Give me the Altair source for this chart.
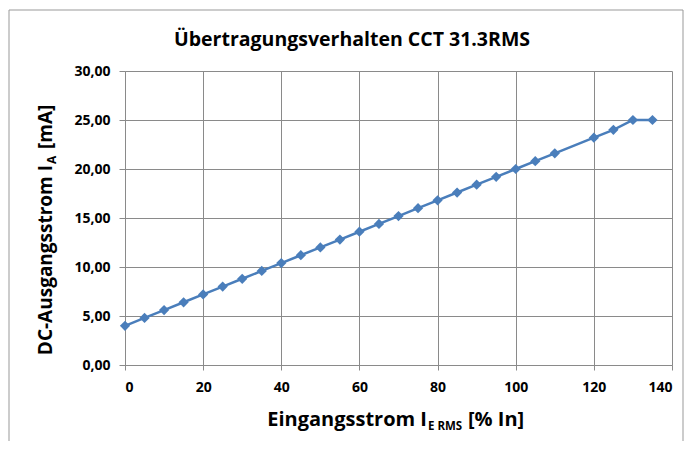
import altair as alt
import pandas as pd

x_vals = [0, 5, 10, 15, 20, 25, 30, 35, 40, 45, 50, 55, 60, 65, 70, 75, 80, 85, 90, 95, 100, 105, 110, 120, 125, 130, 135]
y_vals = [4.0, 4.8, 5.6, 6.4, 7.2, 8.0, 8.8, 9.6, 10.4, 11.2, 12.0, 12.8, 13.6, 14.4, 15.2, 16.0, 16.8, 17.6, 18.4, 19.2, 20.0, 20.8, 21.6, 23.2, 24.0, 25.0, 25.0]
x_ticks = [0, 20, 40, 60, 80, 100, 120, 140]
y_ticks = [0, 5, 10, 15, 20, 25, 30]

title_text = "Übertragungsverhalten CCT 31.3RMS"
FONT = "Open Sans"
GRID = "#8a8a8a"
BLUE = "#4a7ebb"

df = pd.DataFrame({"x": x_vals, "y": y_vals})

W, H = 547, 294

xenc = alt.X("x:Q", scale=alt.Scale(domain=[0, 140], nice=False),
             axis=alt.Axis(values=x_ticks, title=None, grid=True, gridColor=GRID,
                           domainColor=GRID, tickColor=GRID, tickSize=5,
                           labelFont=FONT, labelFontWeight="bold", labelFontSize=14,
                           labelColor="#000", labelPadding=10))
yenc = alt.Y("y:Q", scale=alt.Scale(domain=[0, 30], nice=False),
             axis=alt.Axis(values=y_ticks, title=None, grid=True, gridColor=GRID,
                           domainColor=GRID, tickColor=GRID, tickSize=6,
                           labelFont=FONT, labelFontWeight="bold", labelFontSize=14,
                           labelColor="#000", labelPadding=9,
                           labelExpr="replace(format(datum.value, '.2f'), '.', ',')"))

line = alt.Chart(df).mark_line(color=BLUE, strokeWidth=2.5).encode(x=xenc, y=yenc)
pts = alt.Chart(df).mark_point(shape="diamond", filled=True, color=BLUE, size=105, opacity=1).encode(x="x:Q", y="y:Q")

def txt(s, x, y, size, align="center", angle=0, baseline="alphabetic"):
    return alt.Chart(pd.DataFrame({"t": [s]})).mark_text(
        font=FONT, fontWeight="bold", fontSize=size, align=align, angle=angle,
        baseline=baseline, color="#000"
    ).encode(text="t:N", x=alt.value(x), y=alt.value(y))

title = txt(title_text, 227, -25, 19.5)

# x-axis title with subscript
xt1 = txt("Eingangsstrom I", 302, 355, 20, align="right")
xt2 = txt("E RMS", 303, 359, 11.5, align="left")
xt3 = txt("[% In]", 343, 355, 20, align="left")

# y-axis title with subscript (rotated)
yt1 = txt("DC-Ausgangsstrom I", -73, 94, 19, align="right", angle=270)
yt2 = txt("A", -69, 93, 12, align="left", angle=270)
yt3 = txt("[mA]", -73, 78, 19, align="left", angle=270)

frame_l = alt.Chart(pd.DataFrame({"a": [0]})).mark_rule(color="#999", strokeWidth=1).encode(
    x=alt.value(-116), y=alt.value(-61), y2=alt.value(420))
frame_t = alt.Chart(pd.DataFrame({"a": [0]})).mark_rule(color="#999", strokeWidth=1).encode(
    x=alt.value(-116), x2=alt.value(558), y=alt.value(-61))
frame_r = alt.Chart(pd.DataFrame({"a": [0]})).mark_rule(color="#999", strokeWidth=1).encode(
    x=alt.value(558), y=alt.value(-61), y2=alt.value(420))

chart = alt.layer(frame_l, frame_t, frame_r, line, pts, title, xt1, xt2, xt3, yt1, yt2, yt3).properties(
    width=W, height=H,
    autosize=alt.AutoSizeParams(type="none"),
    padding={"left": 117, "top": 63, "right": 12, "bottom": 76},
    background="white",
).configure_view(stroke=None)

chart.save("out.html", embed_options={"renderer": "svg", "actions": False})
